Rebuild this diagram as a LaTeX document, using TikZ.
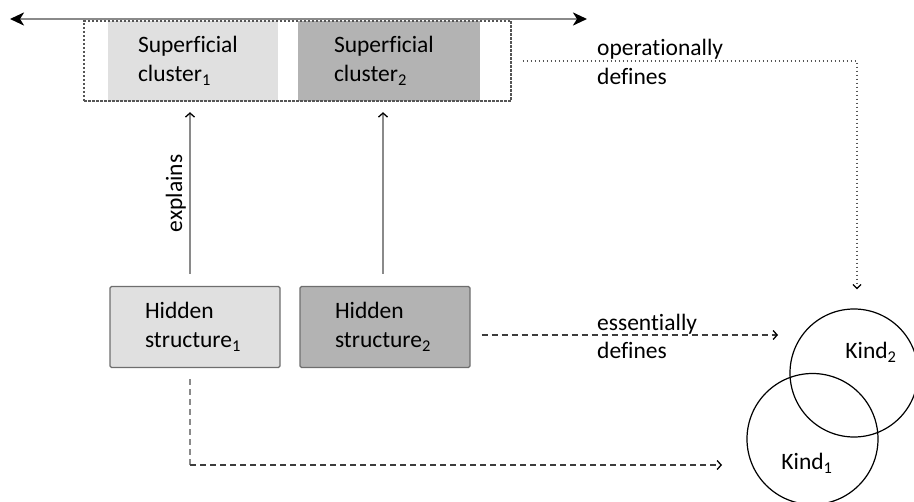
\documentclass[tikz,border=0pt]{standalone}
\usepackage{fontspec}
\setmainfont{Carlito}[Ligatures=NoCommon]
\usetikzlibrary{arrows.meta}

\definecolor{lightfill}{HTML}{E0E0E0}
\definecolor{darkfill}{HTML}{B3B3B3}
\definecolor{edgegray}{HTML}{6E6E6E}
\definecolor{linegray}{HTML}{8A8A8A}
\definecolor{dashgray}{HTML}{3C3C3C}
\definecolor{framegray}{HTML}{555555}

\begin{document}
\begin{tikzpicture}[x=1pt,y=-1pt,
  every node/.style={font=\fontsize{23.5}{29}\selectfont, text=black},
  clusterfill/.style={minimum width=#1, minimum height=80pt, inner sep=0pt,
    text width=110pt, align=left},
  clusterframe/.style={draw=framegray, line width=1.4pt, dash pattern=on 2.5pt off 1.5pt,
    minimum width=427pt, minimum height=80pt, inner sep=0pt},
  hiddenbox/.style={draw=edgegray, line width=1.4pt, rounded corners=1.5pt,
    minimum width=170pt, minimum height=81pt, inner sep=0pt,
    text width=100pt, align=left},
  kindcircle/.style={circle, draw=black, line width=1.2pt, inner sep=0pt},
  axisline/.style={draw=linegray, line width=2.5pt,
    arrows={Stealth[color=black,length=14pt,width=13pt,inset=4pt]-Stealth[color=black,length=14pt,width=13pt,inset=4pt]}},
  uparrow/.style={draw=linegray, line width=2.2pt,
    -{Straight Barb[color=black,length=4pt,width=9pt,line width=1.3pt]}},
  dotconn/.style={draw=framegray, line width=1.4pt, dash pattern=on 1.4pt off 2.6pt,
    -{Straight Barb[color=black,length=4pt,width=8pt,line width=1.3pt]}},
  dashconn/.style={draw=dashgray, line width=1.3pt, dash pattern=on 6pt off 4pt,
    -{Straight Barb[color=black,length=4pt,width=9pt,line width=1.3pt]}},
  dashrise/.style={draw=linegray, line width=1.3pt, dash pattern=on 6pt off 4pt},
  lbl/.style={anchor=west, align=left, inner sep=0pt}
]
\useasboundingbox (0,0) rectangle (914,502);

% superficial clusters
\node[clusterfill=170pt, fill=lightfill] (c1) at (193,61) {Superficial\\cluster\textsubscript{1}};
\node[clusterfill=182pt, fill=darkfill]  (c2) at (389,61) {Superficial\\cluster\textsubscript{2}};
\node[clusterframe] (frame) at (297.5,61) {};

% continuum axis above the clusters
\coordinate (axL) at (10,19);
\coordinate (axR) at (587,19);
\draw[axisline] (axL) -- (axR);

% hidden structures
\node[hiddenbox, fill=lightfill] (h1) at (195,327) {Hidden\\structure\textsubscript{1}};
\node[hiddenbox, fill=darkfill]  (h2) at (385,327) {Hidden\\structure\textsubscript{2}};

% kinds
\node[kindcircle, minimum size=128pt] (k2) at (854,373) {};
\node[kindcircle, minimum size=131pt] (k1) at (812.5,439) {};
\node (k2lbl) at (871,352) {Kind\textsubscript{2}};
\node (k1lbl) at (807,463) {Kind\textsubscript{1}};

% explanation arrows
\draw[uparrow, shorten <=12pt, shorten >=11pt]
  ([xshift=-5pt]h1.north) -- node[midway, sloped, above=1pt, inner sep=2pt] (expl) {explains}
  ([xshift=-3pt]c1.south);
\draw[uparrow, shorten <=12pt, shorten >=11pt]
  ([xshift=-2pt]h2.north) -- ([xshift=-6pt]c2.south);

% operational definition
\draw[dotconn, shorten >=19pt] ([xshift=11pt]frame.east) -| ([xshift=3pt]k2.north);
\node[lbl] (oplbl) at (597,62) {operationally\\defines};

% essential definitions
\coordinate (essEnd) at (778,335);
\draw[dashconn, shorten <=11pt] ([yshift=-8pt]h2.east) -- (essEnd);
\node[lbl, font=\fontsize{23.5}{28}\selectfont] (esslbl) at (597,336) {essentially\\defines};

\coordinate (bend) at (190,465);
\coordinate (k1End) at (722,465);
\draw[dashrise, shorten <=11pt] ([xshift=-5pt]h1.south) -- (bend);
\draw[dashconn] (bend) -- (k1End);
\end{tikzpicture}
\end{document}
